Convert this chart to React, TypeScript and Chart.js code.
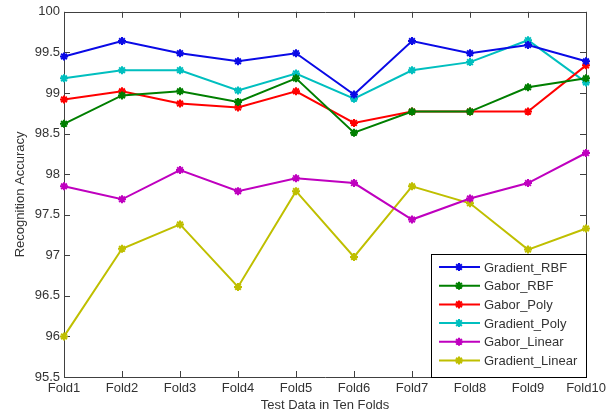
import React, { useEffect, useRef } from 'react';
import { Chart, registerables } from 'chart.js';

Chart.register(...registerables);

const folds = ['Fold1', 'Fold2', 'Fold3', 'Fold4', 'Fold5', 'Fold6', 'Fold7', 'Fold8', 'Fold9', 'Fold10'];
const gradientRBF = [99.45, 99.64, 99.49, 99.39, 99.49, 98.98, 99.64, 99.49, 99.59, 99.39];
const gaborRBF = [98.62, 98.97, 99.02, 98.89, 99.18, 98.51, 98.77, 98.77, 99.07, 99.18];
const gaborPoly = [98.92, 99.02, 98.87, 98.82, 99.02, 98.63, 98.77, 98.77, 98.77, 99.34];
const gradientPoly = [99.18, 99.28, 99.28, 99.03, 99.24, 98.93, 99.28, 99.38, 99.65, 99.13];
const gaborLinear = [97.85, 97.69, 98.05, 97.79, 97.95, 97.89, 97.44, 97.7, 97.89, 98.26];
const gradientLinear = [96.0, 97.08, 97.38, 96.61, 97.79, 96.98, 97.85, 97.64, 97.07, 97.33];
const yMin = 95.5;
const yMax = 100;
const yStep = 0.5;

const seriesNames = ['Gradient_RBF', 'Gabor_RBF', 'Gabor_Poly', 'Gradient_Poly', 'Gabor_Linear', 'Gradient_Linear'];
const seriesColors = ['#0a0ae6', '#007f00', '#ff0000', '#00bfbf', '#bf00bf', '#bfbf00'];
const seriesData = [gradientRBF, gaborRBF, gaborPoly, gradientPoly, gaborLinear, gradientLinear];

const FONT = '"Liberation Sans", Arial, sans-serif';
const TEXT = '#333333';
const FRAME = '#404040';

function drawStar(ctx: CanvasRenderingContext2D, x: number, y: number, r: number, color: string) {
  ctx.save();
  ctx.strokeStyle = color;
  ctx.lineWidth = 2;
  ctx.beginPath();
  for (let k = 0; k < 4; k++) {
    const a = (k * Math.PI) / 4;
    ctx.moveTo(x - Math.cos(a) * r, y - Math.sin(a) * r);
    ctx.lineTo(x + Math.cos(a) * r, y + Math.sin(a) * r);
  }
  ctx.stroke();
  ctx.restore();
}

const framePlugin = {
  id: 'matlabFrame',
  beforeDatasetsDraw(chart: any) {
    const { ctx, chartArea } = chart;
    const { left, right, top, bottom } = chartArea;
    const xs = chart.scales.x;
    const ys = chart.scales.y;
    const tl = 6;
    ctx.save();
    ctx.strokeStyle = FRAME;
    ctx.lineWidth = 1;
    ctx.beginPath();
    ctx.rect(Math.round(left) + 0.5, Math.round(top) + 0.5, Math.round(right - left), Math.round(bottom - top));
    xs.ticks.forEach((_t: any, i: number) => {
      const px = Math.round(xs.getPixelForTick(i)) + 0.5;
      ctx.moveTo(px, bottom);
      ctx.lineTo(px, bottom - tl);
      ctx.moveTo(px, top);
      ctx.lineTo(px, top + tl);
    });
    ys.ticks.forEach((_t: any, i: number) => {
      const py = Math.round(ys.getPixelForTick(i)) + 0.5;
      ctx.moveTo(left, py);
      ctx.lineTo(left + tl, py);
      ctx.moveTo(right, py);
      ctx.lineTo(right - tl, py);
    });
    ctx.stroke();
    ctx.restore();
  },
  afterDatasetsDraw(chart: any) {
    const { ctx, chartArea } = chart;
    const bx = 431;
    const bw = chartArea.right - bx;
    const by = 254;
    const bh = chartArea.bottom - by;
    ctx.save();
    ctx.fillStyle = '#ffffff';
    ctx.fillRect(bx, by, bw, bh);
    ctx.strokeStyle = '#000000';
    ctx.lineWidth = 1;
    ctx.strokeRect(bx + 0.5, by + 0.5, bw, bh);
    ctx.font = '13px ' + FONT;
    ctx.textBaseline = 'middle';
    ctx.textAlign = 'left';
    chart.data.datasets.forEach((ds: any, i: number) => {
      const y = by + 13 + i * 18.7;
      ctx.strokeStyle = ds.borderColor;
      ctx.lineWidth = 2;
      ctx.beginPath();
      ctx.moveTo(bx + 8, y);
      ctx.lineTo(bx + 49, y);
      ctx.stroke();
      drawStar(ctx, bx + 28, y, 4, ds.borderColor);
      ctx.fillStyle = TEXT;
      ctx.fillText(ds.label, bx + 53, y + 1);
    });
    ctx.restore();
  },
};

export default function App() {
  const ref = useRef<HTMLCanvasElement | null>(null);
  useEffect(() => {
    if (!ref.current) return;
    const chart = new Chart(ref.current, {
      type: 'line',
      data: {
        labels: folds,
        datasets: seriesNames.map((name, i) => ({
          label: name,
          data: seriesData[i],
          borderColor: seriesColors[i],
          backgroundColor: seriesColors[i],
          borderWidth: 2,
          pointStyle: 'star',
          pointRadius: 4,
          pointBorderWidth: 2,
          pointBorderColor: seriesColors[i],
          tension: 0,
          fill: false,
          clip: 10,
        })),
      },
      options: {
        animation: false,
        responsive: false,
        maintainAspectRatio: false,
        layout: { padding: { top: 8, right: 30, left: 0, bottom: 0 } },
        plugins: {
          legend: { display: false },
          tooltip: { enabled: false },
        },
        scales: {
          x: {
            type: 'category',
            offset: false,
            grid: { display: false, drawTicks: false },
            border: { display: false },
            ticks: { color: TEXT, font: { family: FONT, size: 13 }, padding: 4, maxRotation: 0, autoSkip: false },
            title: {
              display: true,
              text: 'Test Data in Ten Folds',
              color: TEXT,
              font: { family: FONT, size: 13 },
              padding: { top: 0, bottom: 2 },
            },
            afterFit: (s: any) => {
              s.height = 38;
            },
          },
          y: {
            min: yMin,
            max: yMax,
            grid: { display: false, drawTicks: false },
            border: { display: false },
            ticks: {
              stepSize: yStep,
              color: TEXT,
              font: { family: FONT, size: 13 },
              padding: 4,
              callback: (v: any) => String(Math.round(Number(v) * 10) / 10),
            },
            title: {
              display: true,
              text: 'Recognition Accuracy',
              color: TEXT,
              font: { family: FONT, size: 13 },
              padding: { top: 13, bottom: 0 },
            },
            afterFit: (s: any) => {
              s.width = 64;
            },
          },
        },
      },
      plugins: [framePlugin],
    });
    return () => chart.destroy();
  }, []);
  return (
    <div style={{ position: 'fixed', left: 0, top: 0, width: 616, height: 415, background: '#fff' }}>
      <canvas ref={ref} width={616} height={415} style={{ width: 616, height: 415 }} />
    </div>
  );
}
